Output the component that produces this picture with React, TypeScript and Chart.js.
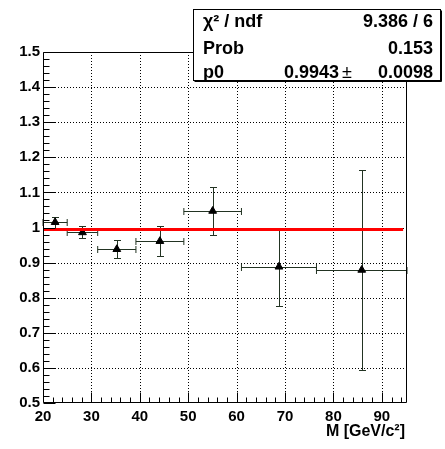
import React, { useEffect, useRef } from "react";
import { Chart, registerables } from "chart.js";

Chart.register(...registerables);

// ---- data ----
const binLow = [20, 25, 31.3, 39.2, 49.1, 61, 76.5];
const binHigh = [25, 31.3, 39.2, 49.1, 61, 76.5, 95.2];
const ratio = [1.015, 0.986, 0.938, 0.961, 1.047, 0.888, 0.879];
const ratioErr = [0.015, 0.017, 0.025, 0.043, 0.067, 0.112, 0.284];
const fitValue = 0.9943;
const fitRange = [20, 94.4];
const xRange = [20, 95.2];
const yRange = [0.5, 1.5];
const xTicks = [20, 30, 40, 50, 60, 70, 80, 90];
const yTicks = [0.5, 0.6, 0.7, 0.8, 0.9, 1.0, 1.1, 1.2, 1.3, 1.4, 1.5];
const xMinorStep = 2;
const yMinorStep = 0.02;
const statsLabels = ["χ² / ndf", "Prob", "p0"];
const statsValues = ["9.386 / 6", "0.153", "0.9943"];
const p0Error = "0.0098";
const xTitle = "M [GeV/c²]";

const FONT = "'Liberation Sans', Arial, Helvetica, sans-serif";
const BAR_COLOR = "#223322";

const gridPlugin = {
  id: "rootGrid",
  beforeDatasetsDraw(chart: any) {
    const { ctx, chartArea: a, scales } = chart;
    const xs = scales.x;
    const ys = scales.y;
    ctx.save();
    ctx.strokeStyle = "#000";
    ctx.lineWidth = 1;
    ctx.setLineDash([1, 2]);
    xTicks.forEach((v) => {
      if (v === xRange[0]) return;
      const px = Math.round(xs.getPixelForValue(v)) + 0.5;
      ctx.beginPath();
      ctx.moveTo(px, a.top);
      ctx.lineTo(px, a.bottom);
      ctx.stroke();
    });
    yTicks.forEach((v) => {
      if (v === yRange[0] || v === yRange[1]) return;
      const py = Math.round(ys.getPixelForValue(v)) + 0.5;
      ctx.beginPath();
      ctx.moveTo(a.left, py);
      ctx.lineTo(a.right, py);
      ctx.stroke();
    });
    ctx.restore();
  },
};

const errorBarPlugin = {
  id: "errorBars",
  beforeDatasetsDraw(chart: any) {
    const { ctx, scales } = chart;
    const xs = scales.x;
    const ys = scales.y;
    const cap = 3.5;
    ctx.save();
    ctx.strokeStyle = BAR_COLOR;
    ctx.lineWidth = 1;
    ratio.forEach((v, i) => {
      const cx = Math.round(xs.getPixelForValue((binLow[i] + binHigh[i]) / 2)) + 0.5;
      const cy = Math.round(ys.getPixelForValue(v)) + 0.5;
      const xl = xs.getPixelForValue(binLow[i]);
      const xr = xs.getPixelForValue(binHigh[i]);
      const yt = Math.round(ys.getPixelForValue(v + ratioErr[i])) + 0.5;
      const yb = Math.round(ys.getPixelForValue(v - ratioErr[i])) + 0.5;
      ctx.beginPath();
      ctx.moveTo(xl, cy);
      ctx.lineTo(xr, cy);
      ctx.moveTo(xl, cy - cap);
      ctx.lineTo(xl, cy + cap);
      ctx.moveTo(xr, cy - cap);
      ctx.lineTo(xr, cy + cap);
      ctx.moveTo(cx, yt);
      ctx.lineTo(cx, yb);
      ctx.moveTo(cx - cap, yt);
      ctx.lineTo(cx + cap, yt);
      ctx.moveTo(cx - cap, yb);
      ctx.lineTo(cx + cap, yb);
      ctx.stroke();
    });
    ctx.restore();
  },
};

const framePlugin = {
  id: "rootFrame",
  afterDatasetsDraw(chart: any) {
    const { ctx, chartArea: a, scales } = chart;
    const xs = scales.x;
    const ys = scales.y;
    const L = Math.round(a.left) + 0.5;
    const R = Math.round(a.right) - 0.5;
    const T = Math.round(a.top) + 0.5;
    const B = Math.round(a.bottom) - 0.5;
    ctx.save();
    ctx.strokeStyle = "#000";
    ctx.lineWidth = 1;
    ctx.beginPath();
    ctx.rect(L, T, R - L, B - T);
    ctx.stroke();
    // y ticks
    ctx.beginPath();
    const nY = Math.round((yRange[1] - yRange[0]) / yMinorStep);
    for (let k = 0; k <= nY; k++) {
      const v = yRange[0] + k * yMinorStep;
      const major = k % 5 === 0;
      const py = Math.round(ys.getPixelForValue(v)) + 0.5;
      ctx.moveTo(L, py);
      ctx.lineTo(L + (major ? 12 : 6), py);
    }
    // x ticks
    for (let v = xRange[0]; v <= xRange[1] + 1e-9; v += xMinorStep) {
      const major = Math.round(v) % 10 === 0;
      const px = Math.round(xs.getPixelForValue(v)) + 0.5;
      ctx.moveTo(px, B);
      ctx.lineTo(px, B - (major ? 10 : 5));
    }
    ctx.stroke();
    ctx.restore();
  },
  afterDraw(chart: any) {
    const { ctx, chartArea: a } = chart;
    ctx.save();
    // x title
    ctx.fillStyle = "#000";
    ctx.font = `bold 16px ${FONT}`;
    ctx.textAlign = "right";
    ctx.textBaseline = "alphabetic";
    ctx.fillText(xTitle, a.right - 2, 435.5);

    // stats box
    const bx = 193.5, by = 9.5, bw = 247, bh = 71;
    ctx.fillStyle = "#fff";
    ctx.fillRect(bx, by, bw, bh);
    ctx.strokeStyle = "#000";
    ctx.lineWidth = 1;
    ctx.strokeRect(bx, by, bw, bh);
    ctx.beginPath();
    ctx.moveTo(bx + 1, by + bh + 1);
    ctx.lineTo(bx + bw + 1, by + bh + 1);
    ctx.lineTo(bx + bw + 1, by + 1);
    ctx.stroke();

    const baselines = [27, 54, 78];
    ctx.fillStyle = "#000";
    ctx.font = `bold 18px ${FONT}`;
    statsLabels.forEach((t, i) => {
      ctx.textAlign = "left";
      ctx.fillText(t, 203, baselines[i]);
    });
    ctx.textAlign = "right";
    ctx.fillText(statsValues[0], 433, baselines[0]);
    ctx.fillText(statsValues[1], 433, baselines[1]);
    ctx.fillText(statsValues[2], 339, baselines[2]);
    ctx.fillText(p0Error, 433, baselines[2]);
    ctx.font = `18px ${FONT}`;
    ctx.textAlign = "left";
    ctx.fillText("±", 342, baselines[2]);
    ctx.restore();
  },
};

export default function App() {
  const ref = useRef<HTMLCanvasElement | null>(null);

  useEffect(() => {
    document.body.style.margin = "0";
    const canvas = ref.current;
    if (!canvas) return;
    const points = ratio.map((v, i) => ({ x: (binLow[i] + binHigh[i]) / 2, y: v }));
    const chart = new Chart(canvas, {
      type: "scatter",
      data: {
        datasets: [
          {
            type: "line",
            data: [
              { x: fitRange[0], y: fitValue },
              { x: fitRange[1], y: fitValue },
            ],
            borderColor: "#ff0000",
            borderWidth: 3,
            pointRadius: 0,
            order: 0,
          } as any,
          {
            data: points,
            pointStyle: "triangle",
            pointRadius: 4.5,
            backgroundColor: "#000",
            borderColor: "#000",
            borderWidth: 1,
            order: 1,
          },
        ],
      },
      options: {
        animation: false,
        responsive: false,
        maintainAspectRatio: false,
        layout: { padding: { top: 52, right: 38, left: 0, bottom: 0 } },
        plugins: { legend: { display: false }, tooltip: { enabled: false } },
        scales: {
          x: {
            type: "linear",
            min: xRange[0],
            max: xRange[1],
            grid: { display: false, drawTicks: false },
            border: { display: false },
            ticks: {
              color: "#000",
              font: { family: FONT, weight: "bold", size: 15 },
              padding: 5,
              maxRotation: 0,
              autoSkip: false,
              callback: (v: any) => String(v),
            },
            afterBuildTicks: (axis: any) => {
              axis.ticks = xTicks.map((v) => ({ value: v }));
            },
            afterFit: (axis: any) => {
              axis.height = 46;
            },
          },
          y: {
            type: "linear",
            min: yRange[0],
            max: yRange[1],
            grid: { display: false, drawTicks: false },
            border: { display: false },
            ticks: {
              color: "#000",
              font: { family: FONT, weight: "bold", size: 15 },
              padding: 3,
              autoSkip: false,
              callback: (v: any) => String(parseFloat(Number(v).toFixed(1))),
            },
            afterBuildTicks: (axis: any) => {
              axis.ticks = yTicks.map((v) => ({ value: v }));
            },
            afterFit: (axis: any) => {
              axis.width = 43;
            },
          },
        },
      },
      plugins: [gridPlugin, errorBarPlugin, framePlugin],
    });
    return () => chart.destroy();
  }, []);

  return (
    <div style={{ width: 445, height: 449 }}>
      <canvas ref={ref} width={445} height={449} style={{ display: "block" }} />
    </div>
  );
}
